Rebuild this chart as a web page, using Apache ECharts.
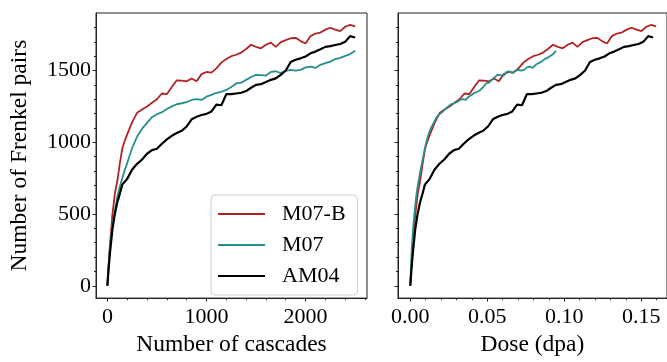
<!DOCTYPE html>
<html>
<head>
<meta charset="utf-8">
<script src="https://cdn.jsdelivr.net/npm/echarts@6/dist/echarts.min.js"></script>
<style>
html,body{margin:0;padding:0;background:#fff;overflow:hidden;}
#chart{width:667px;height:362px;}
</style>
</head>
<body>
<div id="chart"></div>
<script>
// Number of cascades (shared sampling grid)
const cascades = [0,10,25,50,75,100,125,150,175,200,250,300,350,400,450,500,550,600,650,700,750,800,850,900,950,1000,1050,1100,1150,1200,1250,1300,1350,1400,1450,1500,1550,1600,1650,1700,1750,1800,1850,1900,1950,2000,2050,2100,2150,2200,2250,2300,2350,2400,2450,2500];
// Number of Frenkel pairs
const m07b = [0,120,275,490,640,730,850,955,1010,1055,1140,1205,1228,1250,1275,1300,1340,1335,1385,1432,1430,1425,1445,1425,1475,1490,1485,1515,1555,1580,1600,1610,1625,1650,1680,1665,1655,1680,1695,1665,1698,1712,1725,1728,1705,1688,1740,1758,1765,1785,1798,1785,1775,1805,1818,1808];
const m07  = [0,110,260,410,520,620,690,750,805,855,960,1040,1095,1135,1175,1195,1210,1232,1250,1265,1272,1280,1295,1300,1295,1318,1330,1345,1352,1365,1385,1410,1415,1435,1455,1470,1468,1465,1490,1495,1482,1498,1505,1500,1505,1522,1528,1518,1540,1552,1562,1580,1588,1602,1615,1638];
const am04 = [0,100,220,390,500,580,640,705,725,745,810,850,880,920,945,955,990,1020,1045,1065,1080,1110,1160,1178,1190,1198,1215,1262,1258,1335,1335,1340,1345,1357,1380,1400,1405,1420,1435,1445,1470,1500,1560,1575,1585,1598,1620,1632,1648,1665,1670,1678,1685,1700,1740,1730];
// dose (dpa) delivered per cascade for each potential
const dpaPerCascade = {"M07-B": 6.39e-5, "M07": 3.79e-5, "AM04": 6.31e-5};
const seriesNames = ["M07-B","M07","AM04"];
const seriesValues = [m07b, m07, am04];
const colors = ["#b22222","#268f8c","#000000"];
const widths = [1.8,1.8,2.2];
// tick labels
const xTicksLeft = [0,1000,2000];
const xTicksRight = [0,0.05,0.10,0.15];
const yTicks = [0,500,1000,1500];

const FONT = "Liberation Serif";
const AX = "#222";
function range(a,b,s){const r=[];for(let v=a;v<=b+1e-9;v+=s){r.push(+v.toFixed(6));}return r;}
const xMinorLeft = range(200,2600,200).filter(v=>v%1000!==0);
const xMinorRight = range(0.01,0.16,0.01).filter(v=>Math.abs(v/0.05-Math.round(v/0.05))>1e-6);
const yMinor = range(100,1800,100).filter(v=>v%500!==0);

const XL=[-115,2620], XR=[-0.008,0.1668], YR=[-86,1901];

function mainX(grid,mm,ticks,name,fmt){
  return {type:'value',gridIndex:grid,min:mm[0],max:mm[1],position:'bottom',
    name:name,nameLocation:'middle',nameGap:33,
    nameTextStyle:{fontFamily:FONT,fontSize:23.5,color:'#000'},
    axisLine:{show:true,onZero:false,lineStyle:{color:AX,width:1}},
    axisTick:{show:true,length:3.5,customValues:ticks,lineStyle:{color:AX}},
    axisLabel:{show:true,customValues:ticks,margin:8,fontFamily:FONT,fontSize:22,color:'#000',formatter:fmt},
    splitLine:{show:false}};
}
function minorX(grid,mm,ticks){
  return {type:'value',gridIndex:grid,min:mm[0],max:mm[1],position:'bottom',
    axisLine:{show:false,onZero:false},axisTick:{show:true,length:2,customValues:ticks,lineStyle:{color:AX}},
    axisLabel:{show:false},splitLine:{show:false}};
}
function mainY(grid,showLabel,name){
  return {type:'value',gridIndex:grid,min:YR[0],max:YR[1],position:'left',
    name:name,nameLocation:'middle',nameGap:64,
    nameTextStyle:{fontFamily:FONT,fontSize:23.5,color:'#000'},
    axisLine:{show:true,onZero:false,lineStyle:{color:AX,width:1}},
    axisTick:{show:true,length:3.5,customValues:yTicks,lineStyle:{color:AX}},
    axisLabel:{show:showLabel,customValues:yTicks,margin:5,fontFamily:FONT,fontSize:22,color:'#000',formatter:v=>String(v)},
    splitLine:{show:false}};
}
function minorY(grid){
  return {type:'value',gridIndex:grid,min:YR[0],max:YR[1],position:'left',
    axisLine:{show:false,onZero:false},axisTick:{show:true,length:2,customValues:yMinor,lineStyle:{color:AX}},
    axisLabel:{show:false},splitLine:{show:false}};
}

const series=[];
seriesNames.forEach((n,k)=>{
  series.push({name:n,type:'line',xAxisIndex:0,yAxisIndex:0,symbol:'none',
    lineStyle:{color:colors[k],width:widths[k]},itemStyle:{color:colors[k]},
    data:cascades.map((c,i)=>[c,seriesValues[k][i]])});
});
seriesNames.forEach((n,k)=>{
  series.push({name:n,type:'line',xAxisIndex:2,yAxisIndex:2,symbol:'none',
    lineStyle:{color:colors[k],width:widths[k]},itemStyle:{color:colors[k]},
    data:cascades.map((c,i)=>[c*dpaPerCascade[n],seriesValues[k][i]])});
});

const chart = echarts.init(document.getElementById('chart'),null,{renderer:'canvas',width:667,height:362});
chart.setOption({
  animation:false,
  backgroundColor:'#fff',
  grid:[
    {left:96,top:13,width:271,height:293,show:true,borderColor:AX,borderWidth:1,containLabel:false},
    {left:398,top:13,width:272,height:293,show:true,borderColor:AX,borderWidth:1,containLabel:false}
  ],
  xAxis:[
    mainX(0,XL,xTicksLeft,'Number of cascades',v=>String(v)),
    minorX(0,XL,xMinorLeft),
    mainX(1,XR,xTicksRight,'Dose (dpa)',v=>v.toFixed(2)),
    minorX(1,XR,xMinorRight)
  ],
  yAxis:[
    mainY(0,true,'Number of Frenkel pairs'),
    minorY(0),
    mainY(1,false,''),
    minorY(1)
  ],
  legend:{
    data:seriesNames, orient:'vertical', left:211, top:195,
    icon:'rect', itemWidth:47, itemHeight:2, itemGap:9,
    padding:[8,12,8,7],
    backgroundColor:'rgba(255,255,255,0.85)', borderColor:'#cccccc', borderWidth:1, borderRadius:4,
    textStyle:{fontFamily:FONT,fontSize:22,color:'#000',lineHeight:22,padding:[0,0,0,12]}
  },
  series:series
});
</script>
</body>
</html>
